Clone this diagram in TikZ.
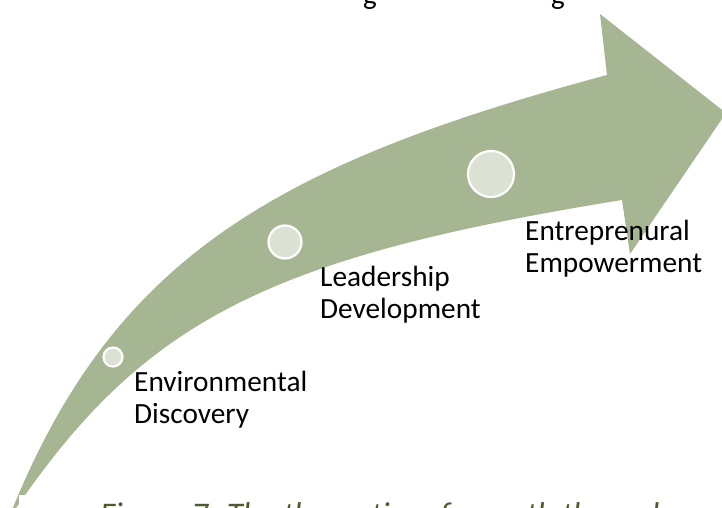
\documentclass[tikz,border=0pt]{standalone}
\usepackage{fontspec}
\setmainfont{Carlito}
\definecolor{arrowgreen}{RGB}{166,181,146}
\definecolor{stepdot}{RGB}{220,226,211}
\definecolor{captionolive}{RGB}{79,91,47}
\begin{document}
\begin{tikzpicture}[x=1pt,y=-1pt,
  stagedot/.style={circle, fill=stepdot, draw=white, line width=2.2pt, inner sep=0pt},
  stagelabel/.style={anchor=base west, align=left, inner sep=0pt,
    font=\fontsize{29.3}{32}\selectfont},
  headline/.style={anchor=base, inner sep=0pt, font=\fontsize{29}{32}\selectfont},
  captiontext/.style={anchor=base west, inner sep=0pt, text=captionolive,
    font=\itshape\fontsize{33}{37}\selectfont}]
\useasboundingbox (0,0) rectangle (722,508);
\clip (0,0) rectangle (722,508);

% heading line above, cut by the frame
\node[headline] (headg1) at (370,5) {g};
\node[headline] (headg2) at (558,5) {g};

% curved growth arrow: outer arc, arrow head, inner arc back to the tail
\fill[arrowgreen]
  (8,520) .. controls (110,262) and (268,166) .. (607,75)
  -- (600,14) -- (726,113) -- (630,254) -- (622,200)
  .. controls (263,258) and (140,322) .. (8,520)
  -- cycle;

% stage markers
\node[stagedot, minimum size=19pt] (dot1) at (113,357) {};
\node[stagedot, minimum size=33pt] (dot2) at (285,242) {};
\node[stagedot, minimum size=46pt] (dot3) at (491,174) {};

% stage labels (anchored on the baseline of their last line)
\node[stagelabel] (lab1) at (134,423) {Environmental\\Discovery};
\node[stagelabel] (lab2) at (320,318) {Leadership\\Development};
\node[stagelabel] (lab3) at (525,272) {Entreprenural\\Empowerment};

% caption box and text
\fill[white] (19,495) rectangle (730,530);
\node[captiontext] (caption) at (100,525) {Figure 7: The theoretics of growth through};
\end{tikzpicture}
\end{document}
